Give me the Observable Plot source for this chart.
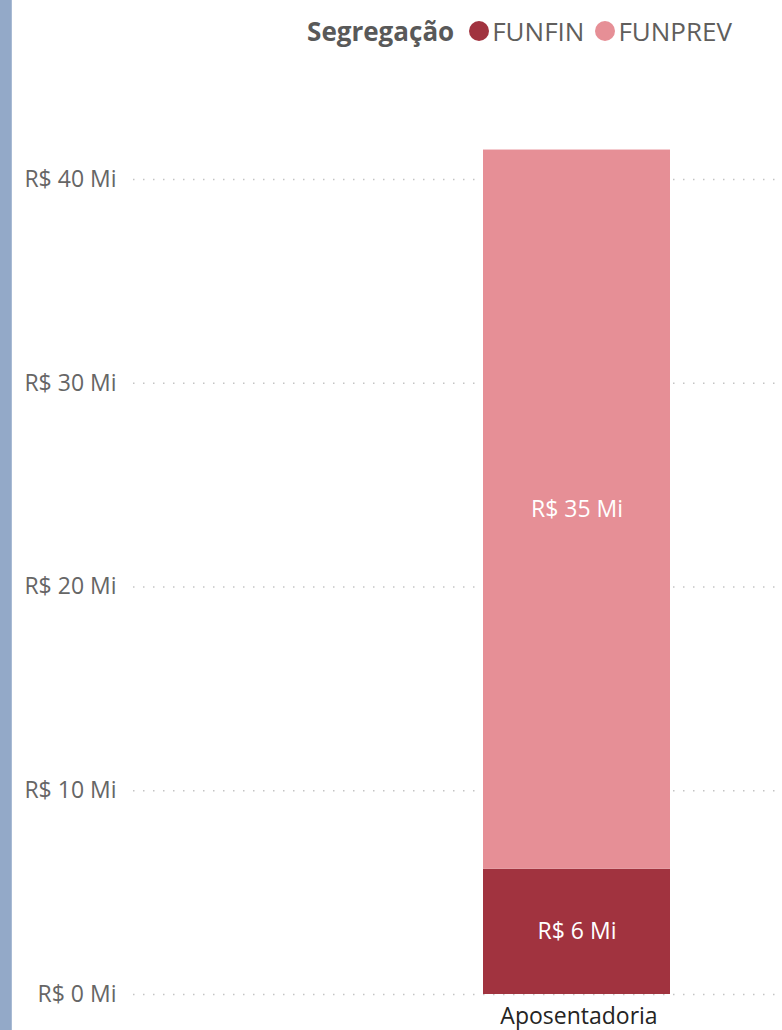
<!DOCTYPE html>
<html>
<head>
<meta charset="utf-8">
<script src="https://cdn.jsdelivr.net/npm/d3@7"></script>
<script src="https://cdn.jsdelivr.net/npm/@observablehq/plot@0.6"></script>
<style>
  html, body { margin: 0; padding: 0; background: #fff; }
  #wrap { position: relative; width: 782px; height: 1030px; overflow: hidden; font-family: "Open Sans", sans-serif; }
  #strip { position: absolute; left: 0; top: 0; width: 12px; height: 1030px; background: #93a9c8; border-right: 1px solid #a9bbd4; box-sizing: border-box; }
  #legend { height: 62px; position: relative; }
  #legend .inner { position: absolute; right: 50px; top: 0; height: 62px; display: flex; align-items: center; font-size: 26px; color: #605e5c; white-space: nowrap; }
  #legend .title { font-weight: bold; color: #595959; margin-right: 15px; }
  #legend .item { display: flex; align-items: center; margin-right: 11px; }
  #legend .item:last-child { margin-right: 0; }
  #legend .dot { width: 20px; height: 20px; border-radius: 50%; margin-right: 3px; }
</style>
</head>
<body>
<div id="wrap">
  <div id="legend"></div>
  <div id="chart"></div>
  <div id="strip"></div>
</div>
<script>
const categories = ["Aposentadoria"];
const series = ["FUNFIN", "FUNPREV"];
const seriesColors = ["#a1333f", "#e68f96"];
const values = [6.15, 35.29];
const yTicks = [0, 10, 20, 30, 40];
const legendTitle = "Segregação";

const data = series.map((s, i) => ({category: categories[0], series: s, value: values[i]}));
const fmt = v => `R$ ${Math.round(v)} Mi`;

// legend
const legend = document.getElementById("legend");
const inner = document.createElement("div");
inner.className = "inner";
const t = document.createElement("span");
t.className = "title";
t.textContent = legendTitle;
inner.appendChild(t);
series.forEach((s, i) => {
  const it = document.createElement("span");
  it.className = "item";
  const d = document.createElement("span");
  d.className = "dot";
  d.style.background = seriesColors[i];
  const l = document.createElement("span");
  l.textContent = s;
  it.appendChild(d); it.appendChild(l);
  inner.appendChild(it);
});
legend.appendChild(inner);

const chart = Plot.plot({
  width: 782,
  height: 968,
  marginLeft: 133,
  marginRight: 0,
  marginTop: 15,
  marginBottom: 36,
  style: {fontFamily: "Open Sans, sans-serif", background: "transparent"},
  x: {domain: categories, range: [483, 670], padding: 0, label: null},
  y: {domain: [0, 45], label: null},
  color: {domain: series, range: seriesColors},
  marks: [
    Plot.ruleY(yTicks, {stroke: "#c4c4c4", strokeWidth: 1.5, strokeDasharray: "1.5 8.5"}),
    Plot.barY(data, {x: "category", y: "value", fill: "series"}),
    Plot.text(data, Plot.stackY({x: "category", y: "value", text: d => fmt(d.value), fill: "white", fontSize: 23})),
    Plot.axisY({ticks: yTicks, tickFormat: d => `R$ ${d} Mi`, tickSize: 0, tickPadding: 17, fontSize: 23, fill: "#666", label: null}),
    Plot.axisX({tickSize: 0, tickPadding: 13, fontSize: 23, fill: "#252423", dx: 2, label: null})
  ]
});
document.getElementById("chart").appendChild(chart);
</script>
</body>
</html>
